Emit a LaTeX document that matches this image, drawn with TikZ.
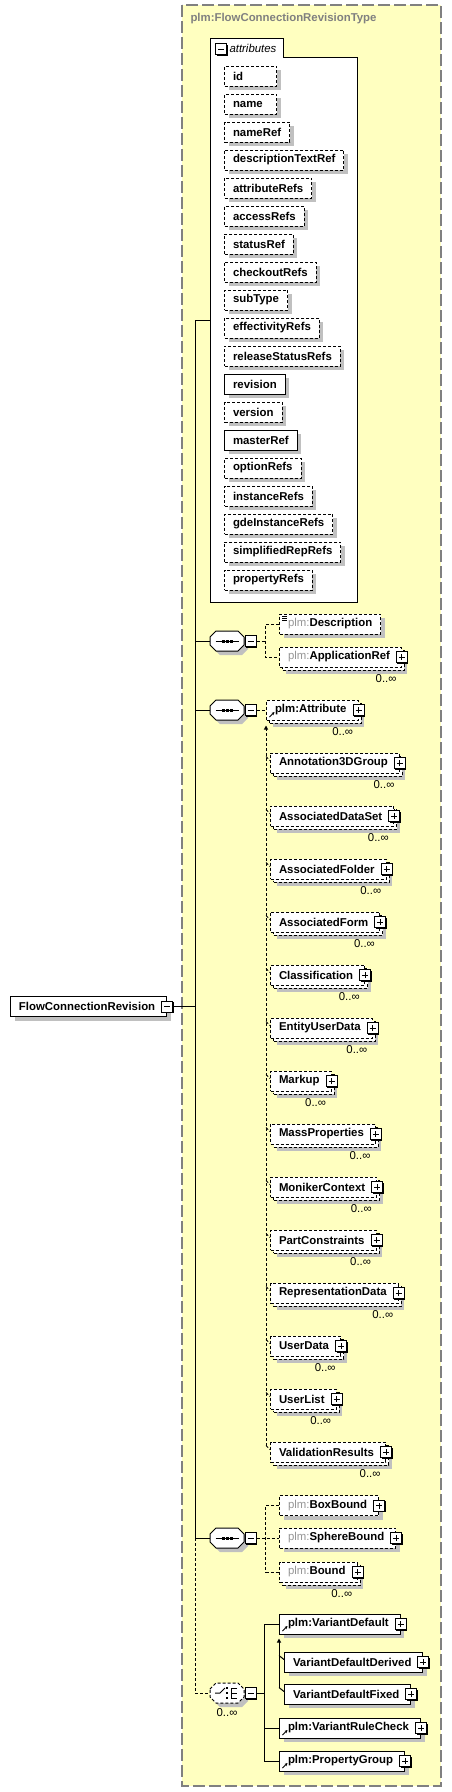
\documentclass[tikz,border=0pt]{standalone}
\usepackage{fontspec}
\setmainfont{Liberation Sans}
\usetikzlibrary{shadows, arrows.meta}

\definecolor{typebg}{RGB}{255,255,192}
\definecolor{typeline}{RGB}{128,128,128}
\definecolor{nsgray}{RGB}{150,150,150}
\definecolor{shadegray}{RGB}{192,192,192}

\newcommand{\dfont}{\fontsize{11.4}{13.7}\selectfont}
\newcommand{\plmns}{{\mdseries\color{nsgray}plm:}}
\newcommand{\attrtext}[1]{\setbox0\hbox{#1}\ifdim\wd0<35pt\makebox[35pt][l]{#1}\else#1\fi}

\tikzset{
	opt/.style={dash pattern=on 3pt off 2pt},
	req/.style={},
	box/.style={draw, fill=white, anchor=west, minimum height=20pt, inner xsep=8.5pt, inner ysep=0pt, font=\dfont\bfseries,
		append after command={\pgfextra{\edef\boxname{\tikzlastnode}}}},
	one/.style={drop shadow={shadow xshift=4pt, shadow yshift=-4pt, fill=shadegray, opacity=1}},
	many/.style={drop shadow={shadow xshift=6pt, shadow yshift=-7pt, fill=shadegray, opacity=1},
		copy shadow={shadow xshift=3pt, shadow yshift=-3pt, fill=white, draw=black},
		append after command={node[occ, anchor=north east] at ([shift={(-5,7)}]\boxname.south east) {0..∞}}},
	occ/.style={font=\dfont\mdseries, inner sep=0pt},
	attrbox/.style={box, one},
	sign/.style={draw, solid, fill=white, minimum size=11pt, inner sep=0pt,
		drop shadow={shadow xshift=1pt, shadow yshift=-1pt, fill=black, opacity=1}},
	minus/.style={sign, path picture={\draw ([xshift=-3pt]path picture bounding box.center) -- ([xshift=3pt]path picture bounding box.center);}},
	plus/.style={sign, path picture={\draw ([xshift=-3pt]path picture bounding box.center) -- ([xshift=3pt]path picture bounding box.center)
		([yshift=-3pt]path picture bounding box.center) -- ([yshift=3pt]path picture bounding box.center);}},
	elem/.style={box, execute at end node={\hspace{3pt}}, append after command={node[plus] at (\boxname.east) {}}},
	ref/.style={path picture={\draw[solid, -{Stealth[length=3pt, width=3pt]}] ([shift={(3pt,3pt)}]path picture bounding box.south west) -- ++(5pt,5pt);}},
	simple/.style={path picture={\foreach \k in {2.5pt,4.5pt,6.5pt} \draw[solid, line width=0.7pt] ([shift={(2.5pt,-\k)}]path picture bounding box.north west) -- ++(5pt,0pt);}},
	comp/.style={minimum width=34pt, minimum height=20pt, inner sep=0pt},
	seqshape/.pic={
		\fill[shadegray, shift={(4,4)}] (-17,-4) -- (-11,-10) -- (11,-10) -- (17,-4) -- (17,4) -- (11,10) -- (-11,10) -- (-17,4) -- cycle;
		\draw[fill=white] (-17,-4) -- (-11,-10) -- (11,-10) -- (17,-4) -- (17,4) -- (11,10) -- (-11,10) -- (-17,4) -- cycle;
		\draw[solid] (-11.5,0) -- (11.5,0);
		\foreach \d in {-4,0,4} \fill (\d-1.5,-1.5) rectangle (\d+1.5,1.5);
	},
	choiceshape/.pic={
		\fill[shadegray, shift={(4,4)}] (-17,-4) -- (-11,-10) -- (11,-10) -- (17,-4) -- (17,4) -- (11,10) -- (-11,10) -- (-17,4) -- cycle;
		\draw[fill=white] (-17,-4) -- (-11,-10) -- (11,-10) -- (17,-4) -- (17,4) -- (11,10) -- (-11,10) -- (-17,4) -- cycle;
		\draw[solid] (-12,0) -- (-7,0) -- (-2,-5);
		\foreach \d in {-5,0,5} \fill (-1,\d-1) rectangle (1,\d+1);
		\draw[solid] (10,-5) -| (4,5) -- (10,5) (4,0) -- (10,0);
	}
}

\begin{document}
\begin{tikzpicture}[x=1pt, y=-1pt, line width=1pt, font=\dfont]
	\useasboundingbox (0,0) rectangle (451,1792);
	\draw[typeline, fill=typebg, line width=1.2pt, dash pattern=on 12pt off 4pt] (182,5) rectangle (441,1786);
	\node[anchor=west, inner sep=0pt, font=\dfont\bfseries, text=typeline] (title) at (190,19) {plm:FlowConnectionRevisionType};

	\node[box, one, execute at end node={\hspace{3pt}}] (main) at (10,1006.5) {FlowConnectionRevision};
	\node[minus] (mainm) at (main.east) {};
	\coordinate (trunk) at (195,1006.5);

	% attributes
	\node[minimum width=146pt, minimum height=544pt, anchor=north west, inner sep=0pt] (attrs) at (210,57) {};
	\draw[fill=white] (attrs.south west) -- ([shift={(0,-19)}]attrs.north west) -- ([shift={(73,-19)}]attrs.north west)
		-- ([shift={(73,0)}]attrs.north west) -- (attrs.north east) -- (attrs.south east) -- cycle;
	\node[minus] (attrsm) at ([shift={(11,-8)}]attrs.north west) {};
	\node[anchor=west, inner sep=0pt, font=\dfont\itshape] (attrstitle) at ([shift={(19,-9)}]attrs.north west) {attributes};
	\foreach \attr/\kind [count=\i from 0] in {id/opt, name/opt, nameRef/opt, descriptionTextRef/opt, attributeRefs/opt,
		accessRefs/opt, statusRef/opt, checkoutRefs/opt, subType/opt, effectivityRefs/opt, releaseStatusRefs/opt,
		revision/req, version/opt, masterRef/req, optionRefs/opt, instanceRefs/opt, gdeInstanceRefs/opt,
		simplifiedRepRefs/opt, propertyRefs/opt}
		\node[attrbox, \kind] (at\i) at (224,76+28*\i) {\attrtext{\attr}};

	% compositors
	\pic at (227,641) {seqshape};
	\node[comp] (seq1) at (227,641) {};
	\node[minus, anchor=west] (seq1m) at (seq1.east) {};
	\pic at (227,710) {seqshape};
	\node[comp] (seq2) at (227,710) {};
	\node[minus, anchor=west] (seq2m) at (seq2.east) {};
	\pic at (227,1538) {seqshape};
	\node[comp] (seq3) at (227,1538) {};
	\node[minus, anchor=west] (seq3m) at (seq3.east) {};
	\pic[opt] at (227,1693) {choiceshape};
	\node[comp, label={[occ, yshift=-5pt]below:0..∞}] (choice) at (227,1693) {};
	\node[minus, anchor=west] (choicem) at (choice.east) {};

	\draw (mainm.east) -- (trunk);
	\draw ([shift={(0,-9.5)}]attrs.west) -| (trunk |- seq3.west) -- (seq3.west);
	\draw (trunk |- seq1.west) -- (seq1.west);
	\draw (trunk |- seq2.west) -- (seq2.west);
	\draw[opt] (trunk |- seq3.west) |- (choice.west);

	% first sequence
	\node[box, opt, one, simple] (description) at (279,624) {\plmns Description};
	\node[elem, opt, many] (appref) at (279,657) {\plmns ApplicationRef};
	\draw[opt] (seq1m.east) -- ([xshift=9pt]seq1m.east);
	\draw[opt] (description.west) -| ([xshift=9pt]seq1m.east) |- (appref.west);

	% second sequence
	\node[elem, opt, many, ref] (attribute) at (266,710) {plm:Attribute};
	\draw[opt] (seq2m.east) -- (attribute.west);
	\foreach \el [count=\i from 0] in {Annotation3DGroup, AssociatedDataSet, AssociatedFolder, AssociatedForm,
		Classification, EntityUserData, Markup, MassProperties, MonikerContext, PartConstraints,
		RepresentationData, UserData, UserList, ValidationResults} {
		\node[elem, opt, many] (sg\i) at (270,763+53*\i) {\el};
		\draw[opt] ([shift={(-4,4)}]sg\i.north west) -- ([shift={(0,8)}]sg\i.north west);
	}
	\draw[opt, -{Triangle[length=4pt, width=4pt]}] ([shift={(-4,4)}]sg13.north west) -- ([shift={(0,5)}]attribute.south west);

	% third sequence
	\node[elem, opt, one] (boxbound) at (279,1505.5) {\plmns BoxBound};
	\node[elem, opt, one] (spherebound) at (279,1538) {\plmns SphereBound};
	\node[elem, opt, many] (bound) at (279,1572) {\plmns Bound};
	\draw[opt] (seq3m.east) -- (spherebound.west);
	\draw[opt] (boxbound.west) -| ([xshift=9pt]seq3m.east) |- (bound.west);

	% choice
	\node[elem, one, ref] (vardefault) at (279,1624) {plm:VariantDefault};
	\node[elem, one] (varderived) at (284,1662) {VariantDefaultDerived};
	\node[elem, one] (varfixed) at (284,1694) {VariantDefaultFixed};
	\node[elem, one, ref] (rulecheck) at (279,1728) {plm:VariantRuleCheck};
	\node[elem, one, ref] (propgroup) at (279,1761) {plm:PropertyGroup};
	\draw (choicem.east) -- ([xshift=8pt]choicem.east);
	\draw (vardefault.west) -| ([xshift=8pt]choicem.east) |- (propgroup.west);
	\draw ([xshift=-15pt]rulecheck.west) -- (rulecheck.west);
	\draw ([shift={(-5,4)}]varderived.north west) -- ([shift={(0,8)}]varderived.north west);
	\draw ([shift={(-5,4)}]varfixed.north west) -- ([shift={(0,8)}]varfixed.north west);
	\draw[-{Triangle[length=4pt, width=4pt]}] ([shift={(-5,4)}]varfixed.north west) -- ([shift={(0,4)}]vardefault.south west);
\end{tikzpicture}
\end{document}
